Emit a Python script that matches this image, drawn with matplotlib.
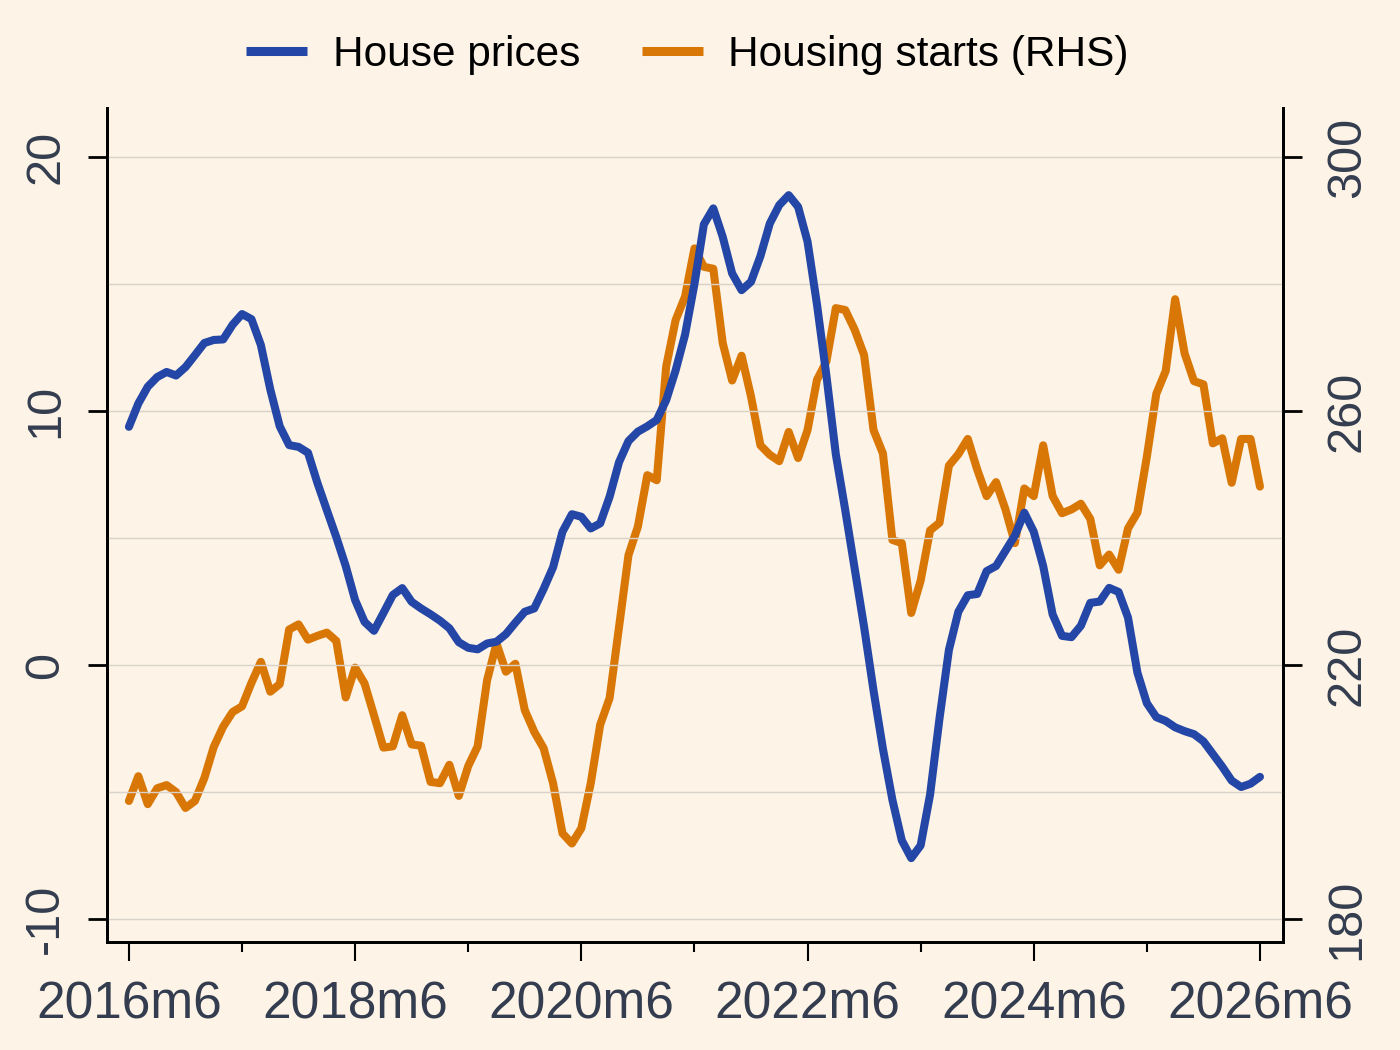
import matplotlib
matplotlib.use("Agg")
import matplotlib.pyplot as plt
import numpy as np

plt.rcParams["font.family"] = ["Liberation Sans", "DejaVu Sans"]

# monthly data, 2016m6 .. 2026m6
house_prices = [
    9.38, 10.3, 10.96, 11.34, 11.54, 11.4, 11.73, 12.2, 12.68, 12.8,
    12.82, 13.4, 13.82, 13.62, 12.6, 10.85, 9.4, 8.66, 8.59, 8.36,
    7.17, 6.1, 5.04, 3.9, 2.56, 1.7, 1.35, 2.05, 2.76, 3.03,
    2.49, 2.23, 2.0, 1.75, 1.45, 0.9, 0.68, 0.62, 0.85, 0.92,
    1.22, 1.67, 2.1, 2.23, 3.0, 3.85, 5.25, 5.94, 5.84, 5.38,
    5.58, 6.63, 7.99, 8.82, 9.19, 9.4, 9.65, 10.43, 11.6, 13.0,
    15.0, 17.35, 17.98, 16.86, 15.42, 14.76, 15.09, 16.1, 17.39, 18.11,
    18.5, 18.04, 16.67, 14.2, 11.4, 8.3, 6.1, 3.8, 1.5, -1.0,
    -3.3, -5.3, -6.9, -7.6, -7.1, -5.1, -2.1, 0.6, 2.1, 2.75,
    2.8, 3.7, 3.9, 4.5, 5.1, 6.0, 5.25, 3.9, 2.0, 1.15,
    1.1, 1.55, 2.45, 2.5, 3.04, 2.88, 1.87, -0.3, -1.5, -2.05,
    -2.2, -2.45, -2.6, -2.72, -3.0, -3.5, -4.0, -4.55, -4.8, -4.67,
    -4.4,
]
housing_starts = [
    198.6, 202.5, 198.1, 200.6, 201.1, 200.0, 197.5, 198.6, 202.2, 207.1,
    210.3, 212.6, 213.5, 217.2, 220.5, 215.8, 217.0, 225.6, 226.4, 224.0,
    224.6, 225.1, 223.8, 214.9, 219.6, 217.1, 212.1, 207.0, 207.2, 212.1,
    207.5, 207.3, 201.6, 201.4, 204.3, 199.4, 204.1, 207.2, 217.6, 223.4,
    218.95, 220.2, 212.9, 209.5, 206.9, 201.4, 193.5, 191.9, 194.3, 201.4,
    210.6, 214.8, 226.0, 237.3, 241.8, 249.9, 249.1, 267.0, 274.3, 278.0,
    285.6, 282.7, 282.4, 270.7, 264.8, 268.7, 262.3, 254.6, 253.1, 252.1,
    256.7, 252.6, 257.0, 264.9, 267.8, 276.2, 275.9, 272.8, 268.8, 257.0,
    253.3, 239.7, 239.2, 228.2, 233.3, 241.2, 242.4, 251.4, 253.2, 255.6,
    250.8, 246.6, 248.8, 244.5, 239.2, 247.8, 246.6, 254.6, 246.6, 243.9,
    244.5, 245.4, 243.0, 235.7, 237.4, 235.0, 241.5, 244.0, 252.8, 262.7,
    266.3, 277.6, 269.1, 264.7, 264.2, 254.9, 255.7, 248.7, 255.6, 255.6,
    248.1,
]
x_tick_labels = ["2016m6", "2018m6", "2020m6", "2022m6", "2024m6", "2026m6"]
left_ticks = [-10, 0, 10, 20]
right_ticks = [180, 220, 260, 300]

bg = "#FDF3E6"
blue = "#2446A6"
orange = "#D97706"
label_col = "#333D4F"

months = np.arange(len(house_prices))

fig = plt.figure(figsize=(14, 10.5), dpi=100, facecolor=bg)
ax = fig.add_axes([0.0764, 0.1029, 0.84, 0.7942], facecolor=bg)
ax2 = ax.twinx()

# gridlines every 5 on the left scale
for g in np.arange(-10, 21, 5):
    ax.axhline(g, color="#D8D2CA", lw=1.0, zorder=0)

l1, = ax.plot(months, house_prices, color=blue, lw=5.8, solid_joinstyle="round",
              solid_capstyle="round", label="House prices", zorder=3)
l2, = ax2.plot(months, housing_starts, color=orange, lw=5.8, solid_joinstyle="round",
               solid_capstyle="round", label="Housing starts (RHS)", zorder=3)
ax.set_zorder(ax2.get_zorder() + 1)
ax.patch.set_visible(False)
ax2.patch.set_visible(True)
ax2.patch.set_facecolor(bg)

ax.set_xlim(-2.33, 122.44)
ax.set_ylim(-10.9, 21.93)
ax2.set_ylim(176.4, 307.7)

ax.set_xticks(np.arange(0, 121, 24))
ax.set_xticklabels(x_tick_labels)
ax.set_xticks(np.arange(12, 121, 24), minor=True)
ax.set_yticks(left_ticks)
ax.set_yticklabels([str(t) for t in left_ticks], rotation=90, va="center")
ax2.set_yticks(right_ticks)
ax2.set_yticklabels([str(t) for t in right_ticks], rotation=90, va="center")

for a in (ax, ax2):
    a.spines["top"].set_visible(False)
    for s in ("left", "right", "bottom"):
        a.spines[s].set_linewidth(2)
        a.spines[s].set_color("black")

ax.tick_params(axis="x", which="major", length=14, width=1.5, pad=14,
               labelsize=37, labelcolor=label_col)
ax.tick_params(axis="x", which="minor", length=7, width=1.5)
ax.tick_params(axis="y", length=14, width=2, pad=14, labelsize=35, labelcolor=label_col)
ax2.tick_params(axis="y", length=14, width=2, pad=16, labelsize=35, labelcolor=label_col)

fig.legend([l1, l2], ["House prices", "Housing starts (RHS)"], loc="center",
           bbox_to_anchor=(0.491, 0.948), ncol=2, frameon=False, fontsize=30.5,
           handlelength=1.45, handletextpad=0.6, columnspacing=1.45)
for line in fig.legends[0].get_lines():
    line.set_linewidth(6.5)
    line.set_solid_capstyle("butt")

fig.savefig("out.png", dpi=100, facecolor=bg)
